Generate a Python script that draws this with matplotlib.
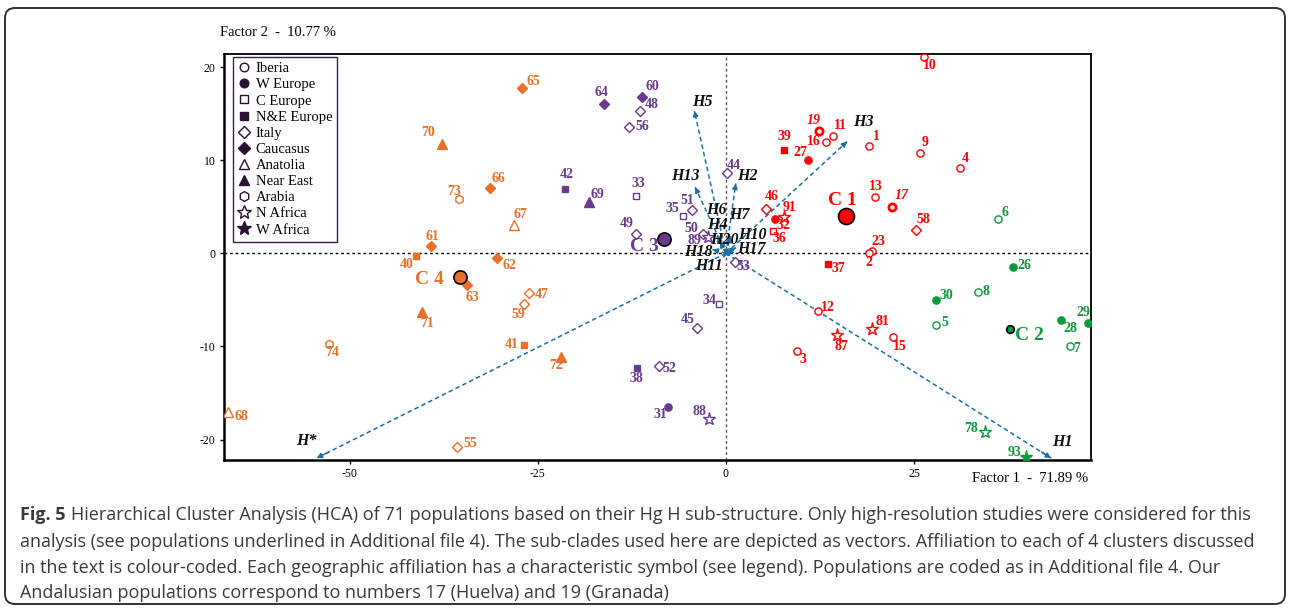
import matplotlib.pyplot as plt
from matplotlib.lines import Line2D
from matplotlib.patches import FancyBboxPatch
from matplotlib.transforms import IdentityTransform

plt.rcParams['font.family'] = ['Liberation Serif', 'DejaVu Serif']
plt.rcParams['axes.unicode_minus'] = False

# populations: id, factor 1, factor 2, cluster, geographic group
pop_id = [65, 70, 66, 73, 67, 61, 40, 62, 63, 47, 59, 71, 74, 41, 72, 68, 55,
          64, 60, 48, 56, 42, 69, 33, 44, 51, 35, 49, 50, 89, 53, 34, 45, 38, 52, 31, 88,
          10, 19, 11, 16, 1, 9, 4, 39, 27, 13, 17, 58, 46, 91, 32, 36, 23, 2, 37, 12, 81, 87, 15, 3,
          6, 26, 30, 8, 5, 28, 29, 7, 78, 93]
f1 = [-27.1, -37.7, -31.3, -35.5, -28.2, -39.2, -41.2, -30.4, -34.4, -26.2, -26.9, -40.4, -52.8, -26.9, -21.9, -66.2, -35.7,
      -16.2, -11.1, -11.4, -12.9, -21.4, -18.2, -12.0, 0.1, -4.5, -5.7, -12.0, -3.05, -2.4, 1.15, -0.9, -3.8, -11.8, -8.9, -7.7, -2.2,
      26.3, 12.4, 14.2, 13.3, 19.0, 25.8, 31.1, 7.75, 10.9, 19.8, 22.1, 25.2, 5.3, 7.7, 6.5, 6.2, 19.35, 19.0, 13.6, 12.2, 19.4, 14.7, 22.2, 9.4,
      36.2, 38.2, 27.85, 33.5, 27.9, 44.5, 48.1, 45.7, 34.4, 39.9]
f2 = [17.7, 11.7, 7.0, 5.8, 3.0, 0.75, -0.26, -0.54, -3.4, -4.25, -5.5, -6.3, -9.7, -9.8, -11.1, -17.0, -20.8,
      16.0, 16.8, 15.3, 13.6, 6.9, 5.5, 6.1, 8.6, 4.7, 4.0, 2.1, 2.1, 1.8, -0.93, -5.5, -8.0, -12.3, -12.1, -16.5, -17.8,
      21.1, 13.1, 12.6, 11.9, 11.5, 10.8, 9.2, 11.1, 10.0, 6.0, 5.0, 2.5, 4.8, 3.9, 3.7, 2.4, 0.2, 0.0, -1.15, -6.2, -8.1, -8.75, -9.0, -10.5,
      3.7, -1.47, -4.97, -4.2, -7.65, -7.2, -7.5, -10.0, -19.2, -21.9]
cluster = [4] * 17 + [3] * 20 + [1] * 24 + [2] * 10
group = ['Caucasus', 'Near East', 'Caucasus', 'Arabia', 'Anatolia', 'Caucasus', 'N&E Europe', 'Caucasus', 'Caucasus',
         'Italy', 'Italy', 'Near East', 'Arabia', 'N&E Europe', 'Near East', 'Anatolia', 'Italy',
         'Caucasus', 'Caucasus', 'Italy', 'Italy', 'N&E Europe', 'Near East', 'C Europe', 'Italy', 'Italy', 'C Europe',
         'Italy', 'Italy', 'N Africa', 'Italy', 'C Europe', 'Italy', 'N&E Europe', 'Italy', 'W Europe', 'N Africa',
         'Iberia', 'Iberia', 'Iberia', 'Iberia', 'Iberia', 'Iberia', 'Iberia', 'N&E Europe', 'W Europe', 'Iberia', 'Iberia',
         'Italy', 'Italy', 'N Africa', 'W Europe', 'C Europe', 'Iberia', 'Iberia', 'N&E Europe', 'Iberia', 'N Africa',
         'N Africa', 'Iberia', 'Iberia',
         'Iberia', 'W Europe', 'W Europe', 'Iberia', 'Iberia', 'W Europe', 'W Europe', 'Iberia', 'N Africa', 'W Africa']

# cluster centroids
centre_name = ['C 1', 'C 2', 'C 3', 'C 4']
centre_f1 = [16.0, 37.7, -8.2, -35.4]
centre_f2 = [4.0, -8.1, 1.5, -2.6]

# sub-clade vectors
vec_name = ['H1', 'H*', 'H3', 'H5', 'H13', 'H2', 'H6', 'H4', 'H7', 'H10', 'H20', 'H17', 'H18', 'H11']
vec_f1 = [43.2, -54.4, 16.1, -4.2, -4.1, 1.3, -1.2, -0.8, 0.6, 1.3, 0.3, 1.0, -1.8, -0.3]
vec_f2 = [-22.0, -22.0, 12.0, 15.3, 7.1, 7.5, 1.8, 1.2, 1.8, 0.6, 0.5, 0.1, 0.4, -0.4]

legend_groups = ['Iberia', 'W Europe', 'C Europe', 'N&E Europe', 'Italy', 'Caucasus',
                 'Anatolia', 'Near East', 'Arabia', 'N Africa', 'W Africa']

# ---- styling / layout ----
colours = {1: '#FF0000', 2: '#0A9A3C', 3: '#6A3A8E', 4: '#E8702A'}
symbol = {'Iberia': ('o', False), 'W Europe': ('o', True), 'C Europe': ('s', False),
          'N&E Europe': ('s', True), 'Italy': ('D', False), 'Caucasus': ('D', True),
          'Anatolia': ('^', False), 'Near East': ('^', True), 'Arabia': ('h', False),
          'N Africa': ('*', False), 'W Africa': ('*', True)}
msize = {'o': 5.2, 's': 4.8, 'D': 4.8, '^': 6.5, 'h': 6.0, '*': 9.5}

# label offsets in pixels (right, up)
lab_off = {65: (11, 7), 70: (-14, 12), 66: (8, 10), 73: (-5, 8), 67: (7, 11), 61: (1, 10), 40: (-9, -9),
           62: (12, -7), 63: (5, -13), 47: (13, -2), 59: (-5, -10), 71: (5, -12), 74: (4, -9), 41: (-12, 0),
           72: (-5, -9), 68: (14, -5), 55: (13, 3),
           64: (-3, 12), 60: (10, 10), 48: (12, 6), 56: (13, 0), 42: (2, 15), 69: (8, 8), 33: (3, 13),
           44: (7, 8), 51: (-5, 9), 35: (-11, 8), 49: (-9, 10), 50: (-12, 5), 89: (-13, -4), 53: (9, -5),
           34: (-10, 4), 45: (-10, 8), 38: (-1, -11), 52: (10, -3), 31: (-8, -8), 88: (-10, 8),
           10: (6, -9), 19: (-6, 11), 11: (8, 10), 16: (-12, 1), 1: (7, 10), 9: (5, 10), 4: (5, 9),
           39: (0, 13), 27: (-8, 8), 13: (1, 11), 17: (9, 11), 58: (8, 10), 46: (6, 12), 91: (6, 9),
           32: (9, -7), 36: (7, -8), 23: (7, 10), 2: (0, -9), 37: (10, -5), 12: (10, 4), 81: (10, 7),
           87: (5, -12), 15: (7, -9), 3: (6, -8),
           6: (7, 6), 26: (11, 1), 30: (11, 4), 8: (8, 1), 5: (9, 2), 28: (9, -8), 29: (-5, 11),
           7: (7, -2), 78: (-14, 4), 93: (-12, 5)}
centre_off = [(-4, 16), (20, -7), (-20, -7), (-30, -2)]
centre_size = [11.5, 5.5, 9.5, 9.5]
vec_off = [(11, 16), (-10, 17), (16, 20), (8, 9), (-10, 11), (12, 7), (-1, 27), (-3, 17),
           (9, 22), (17, 13), (-4, 9), (18, 3), (-14, -2), (-15, -9)]
px2pt = 0.72
vec_col = '#1B6FA5'

fig = plt.figure(figsize=(12.9, 6.09), dpi=100)
ax = fig.add_axes([224 / 1290, 1 - 460 / 609, 867 / 1290, 406 / 609])
ax.set_xlim(-66.7, 48.5)
ax.set_ylim(-22.2, 21.4)

ax.axhline(0, color='black', ls=(0, (2, 2)), lw=1, zorder=1)
ax.axvline(0, color='#555555', ls=(0, (2, 2)), lw=1, zorder=1)

for name, vx, vy, off in zip(vec_name, vec_f1, vec_f2, vec_off):
    ax.plot([0, vx], [0, vy], color=vec_col, ls=(0, (3, 2)), lw=1.1, zorder=2)
    ax.annotate('', xy=(vx, vy), xytext=(vx * 0.97, vy * 0.97),
                arrowprops=dict(arrowstyle='-|>', color=vec_col, lw=1, mutation_scale=8,
                                shrinkA=0, shrinkB=0), zorder=2)
    ax.annotate(name, xy=(vx, vy), xytext=(off[0] * px2pt, off[1] * px2pt),
                textcoords='offset points', ha='center', va='center',
                fontsize=11.5, fontweight='bold', fontstyle='italic', color='#111111', zorder=5)

for pid, x, y, c, g in zip(pop_id, f1, f2, cluster, group):
    m, filled = symbol[g]
    col = colours[c]
    thick = pid in (17, 19)
    ax.plot(x, y, marker=m, ls='none', ms=msize[m],
            mfc=col if filled else 'white', mec=col, mew=2 if thick else 1, zorder=4)
    dx, dy = lab_off[pid]
    ax.annotate(str(pid), xy=(x, y), xytext=(dx * px2pt, dy * px2pt), textcoords='offset points',
                ha='center', va='center', fontsize=10, fontweight='bold',
                fontstyle='italic' if thick else 'normal', color=col, zorder=5)

for i, (name, x, y) in enumerate(zip(centre_name, centre_f1, centre_f2)):
    col = colours[i + 1]
    ax.plot(x, y, 'o', ms=centre_size[i], mfc=col, mec='black', mew=1.2, zorder=6)
    dx, dy = centre_off[i]
    ax.annotate(name, xy=(x, y), xytext=(dx * px2pt, dy * px2pt), textcoords='offset points',
                ha='center', va='center', fontsize=14, fontweight='bold', color=col, zorder=6)

ax.set_xticks([-50, -25, 0, 25])
ax.set_yticks([-20, -10, 0, 10, 20])
ax.tick_params(labelsize=8.5, length=3, width=1, direction='out', pad=3)
for s in ['left', 'bottom']:
    ax.spines[s].set_linewidth(1.8)
for s in ['top', 'right']:
    ax.spines[s].set_linewidth(1.3)

handles = []
for g in legend_groups:
    m, filled = symbol[g]
    handles.append(Line2D([], [], marker=m, ls='none', ms=msize[m] + 1,
                          mfc='#2A1133' if filled else 'white', mec='#2A1133', mew=1))
leg = ax.legend(handles, legend_groups, loc='upper left', bbox_to_anchor=(0.0104, 0.9926),
                borderaxespad=0, fontsize=10.5, labelspacing=0.2, handlelength=0.8,
                handletextpad=0.4, borderpad=0.35, fancybox=False, framealpha=1)
leg.get_frame().set_edgecolor('#3B1F44')
leg.get_frame().set_linewidth(1)

fig.text(220 / 1290, 1 - 32 / 609, 'Factor 2  -  10.77 %', fontsize=10.5, va='center', ha='left')
fig.text(972 / 1290, 1 - 478 / 609, 'Factor 1  -  71.89 %', fontsize=10.5, va='center', ha='left')

# caption
cap = ['Hierarchical Cluster Analysis (HCA) of 71 populations based on their Hg H sub-structure. Only high-resolution studies were considered for this',
       'analysis (see populations underlined in Additional file 4). The sub-clades used here are depicted as vectors. Affiliation to each of 4 clusters discussed',
       'in the text is colour-coded. Each geographic affiliation has a characteristic symbol (see legend). Populations are coded as in Additional file 4. Our',
       'Andalusian populations correspond to numbers 17 (Huelva) and 19 (Granada)']
cap_base = [520, 547, 573, 598]
cap_col = '#3A3A3A'
t1 = fig.text(20 / 1290, 1 - cap_base[0] / 609, 'Fig. 5', fontsize=13, fontweight='bold',
              family='Open Sans', va='baseline', ha='left', color=cap_col)
ax.annotate(cap[0], xy=(1, 0), xycoords=t1, xytext=(4, 0), textcoords='offset points',
            fontsize=13, family='Open Sans', va='bottom', ha='left', color=cap_col,
            annotation_clip=False)
for line, yy in zip(cap[1:], cap_base[1:]):
    fig.text(20 / 1290, 1 - yy / 609, line, fontsize=13, family='Open Sans',
             va='baseline', ha='left', color=cap_col)

frame = FancyBboxPatch((5, 5), 1280, 596, boxstyle='round,pad=0,rounding_size=10',
                       transform=IdentityTransform(), fill=False, ec='#333333', lw=1.4)
fig.add_artist(frame)

fig.savefig('out.png', dpi=100)
